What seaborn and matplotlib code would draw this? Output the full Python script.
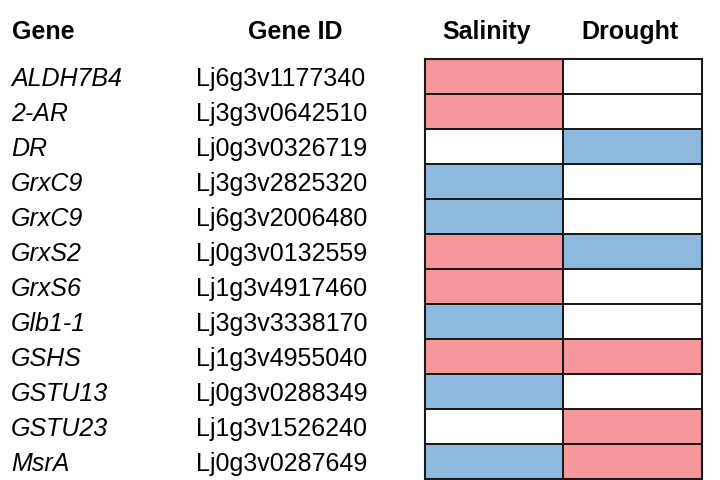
import numpy as np
import pandas as pd
import matplotlib
matplotlib.use("Agg")
import matplotlib.pyplot as plt
import matplotlib.transforms as mtransforms
from matplotlib.colors import ListedColormap
import seaborn as sns

genes = ["ALDH7B4", "2-AR", "DR", "GrxC9", "GrxC9", "GrxS2", "GrxS6",
         "Glb1-1", "GSHS", "GSTU13", "GSTU23", "MsrA"]
gene_ids = ["Lj6g3v1177340", "Lj3g3v0642510", "Lj0g3v0326719", "Lj3g3v2825320",
            "Lj6g3v2006480", "Lj0g3v0132559", "Lj1g3v4917460", "Lj3g3v3338170",
            "Lj1g3v4955040", "Lj0g3v0288349", "Lj1g3v1526240", "Lj0g3v0287649"]
# 1 = up (red), -1 = down (blue), 0 = no change
salinity = [1, 1, 0, -1, -1, 1, 1, -1, 1, -1, 0, -1]
drought = [0, 0, -1, 0, 0, -1, 0, 0, 1, 0, 1, 1]

df = pd.DataFrame({"Salinity": salinity, "Drought": drought}, index=gene_ids)

sns.set_style("white")
plt.rcParams["font.family"] = ["Liberation Sans", "DejaVu Sans"]
plt.rcParams["text.color"] = "black"

fig = plt.figure(figsize=(7.2, 4.81), dpi=100)
ax = fig.add_axes([0.590, 0.002, 0.385, 0.873])

cmap = ListedColormap(["#8DB9DE", "#FFFFFF", "#F4969A"])
sns.heatmap(df, ax=ax, cmap=cmap, vmin=-1.5, vmax=1.5, cbar=False,
            linewidths=1.2, linecolor="#1a1a1a")
ax.set_xticks([])
ax.set_yticks([])
ax.set_xlabel("")
ax.set_ylabel("")
for s in ax.spines.values():
    s.set_visible(True)
    s.set_color("#1a1a1a")
    s.set_linewidth(1.5)

fs = 18

# row labels, left of the heatmap
trans = mtransforms.blended_transform_factory(fig.transFigure, ax.transData)
for i, (g, gid) in enumerate(zip(genes, gene_ids)):
    fig.text(11 / 720, i + 0.74, g, transform=trans, ha="left", va="baseline",
             fontsize=fs, style="italic")
    fig.text(196 / 720, i + 0.74, gid, transform=trans, ha="left", va="baseline",
             fontsize=fs)

# headers
hy = 1 - 39 / 481
fig.text(12 / 720, hy, "Gene", ha="left", va="baseline", fontsize=fs, weight="bold")
fig.text(295 / 720, hy, "Gene ID", ha="center", va="baseline", fontsize=fs, weight="bold")
fig.text(487 / 720, hy, "Salinity", ha="center", va="baseline", fontsize=fs, weight="bold")
fig.text(630 / 720, hy, "Drought", ha="center", va="baseline", fontsize=fs, weight="bold")

fig.savefig("out.png", dpi=100)
